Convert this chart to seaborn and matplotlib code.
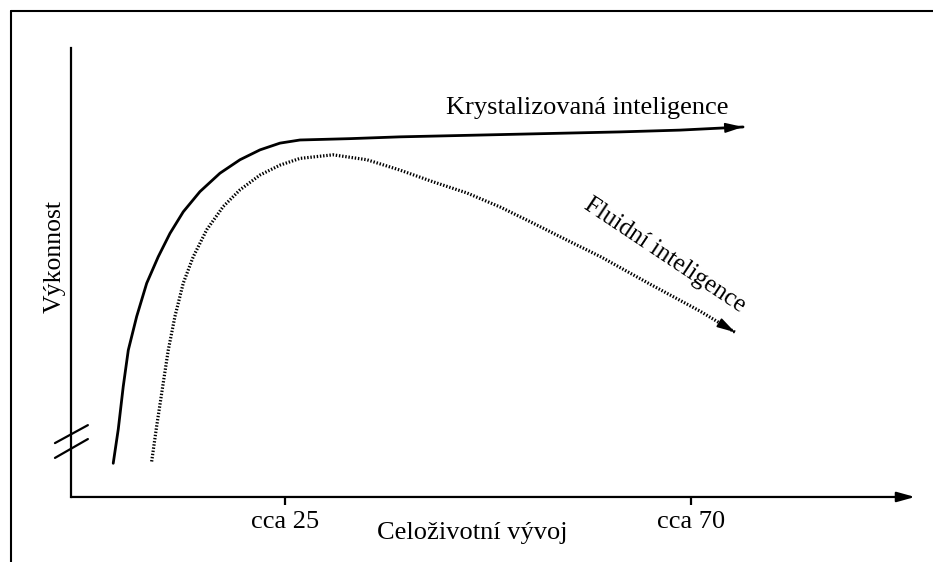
import numpy as np
import pandas as pd
import matplotlib
matplotlib.use("Agg")
import matplotlib.pyplot as plt
from matplotlib.lines import Line2D
import seaborn as sns

# ==========================================
# 数据
# ==========================================
TICK_AGES = [25, 70]
TICK_LABELS = ["cca 25", "cca 70"]

# 晶体智力（实线）
kryst_age = [5.97, 6.53, 7.08, 7.64, 8.57, 9.68, 10.96, 12.26, 13.73, 15.58, 17.80, 20.02, 22.24,
             24.45, 26.67, 32.2, 37.75, 48.83, 62.13, 68.8, 75.78]
kryst_perf = [7.5, 15.1, 24.6, 32.7, 40.2, 47.6, 53.5, 58.7, 63.5, 68.0, 72.1, 75.1, 77.3,
              78.8, 79.5, 79.8, 80.2, 80.7, 81.3, 81.7, 82.4]

# 流体智力（点线）
fluid_age = [10.23, 10.78, 11.34, 12.07, 12.81, 13.73, 14.84, 16.33, 18.17, 20.02, 22.24, 24.45,
             26.67, 30.33, 34.09, 37.75, 41.41, 45.18, 48.83, 52.49, 56.26, 60.0, 65.47, 71.0, 74.88]
fluid_perf = [7.9, 15.7, 23.1, 32.7, 40.2, 47.6, 53.5, 59.5, 64.7, 68.4, 71.7, 73.9,
              75.4, 76.2, 75.1, 72.8, 70.2, 67.7, 64.6, 61.0, 57.2, 53.5, 47.4, 41.4, 36.7]

df_k = pd.DataFrame({"age": kryst_age, "perf": kryst_perf})
df_f = pd.DataFrame({"age": fluid_age, "perf": fluid_perf})

sns.set_theme(style="white")
plt.rcParams["font.family"] = ["Liberation Serif", "DejaVu Serif"]
plt.rcParams["text.color"] = "black"
plt.rcParams["axes.labelcolor"] = "black"
plt.rcParams["xtick.color"] = "black"
plt.rcParams["ytick.color"] = "black"

fig = plt.figure(figsize=(9.33, 5.62), dpi=100)
ax = fig.add_axes([0.0761, 0.1157, 0.9046, 0.799])

sns.lineplot(data=df_k, x="age", y="perf", ax=ax, color="black", linewidth=2.0, estimator=None, sort=False)
sns.lineplot(data=df_f, x="age", y="perf", ax=ax, color="black", linewidth=2.3, linestyle=(0, (0.45, 0.55)),
             estimator=None, sort=False)


def arrow_head(df):
    # 箭头：在曲线末端画一个小三角
    x1, y1 = df["age"].iloc[-1], df["perf"].iloc[-1]
    x0, y0 = df["age"].iloc[-2], df["perf"].iloc[-2]
    xs = x1 - 0.02 * (x1 - x0)
    ys = y1 - 0.02 * (y1 - y0)
    ax.annotate("", xy=(x1, y1), xytext=(xs, ys),
                arrowprops=dict(arrowstyle="-|>,head_length=0.9,head_width=0.25", color="black",
                                lw=1.2, shrinkA=0, shrinkB=0))


arrow_head(df_k)
arrow_head(df_f)

ax.set_xlim(1.29, 94.84)
ax.set_ylim(0, 100)

# 坐标轴
for side in ["top", "right", "bottom"]:
    ax.spines[side].set_visible(False)
ax.spines["left"].set_color("black")
ax.spines["left"].set_linewidth(1.6)
ax.annotate("", xy=(1.0, 0.0), xytext=(0.0, 0.0), xycoords="axes fraction", textcoords="axes fraction",
            arrowprops=dict(arrowstyle="-|>,head_length=0.9,head_width=0.25", color="black", lw=1.6,
                            shrinkA=0, shrinkB=0))

ax.set_xticks(TICK_AGES)
ax.set_xticklabels(TICK_LABELS, fontsize=19)
ax.set_yticks([])
ax.tick_params(axis="x", direction="out", length=6, width=1.6, color="black", pad=4, bottom=True)

ax.set_xlabel("Celoživotní vývoj", fontsize=19)
ax.xaxis.set_label_coords(0.476, -0.055)
ax.set_ylabel("Výkonnost", fontsize=18.5)
ax.yaxis.set_label_coords(-0.006, 0.535)

# 纵轴断裂符号
for y0, y1 in [(0.120, 0.160), (0.087, 0.129)]:
    ax.plot([-0.019, 0.020], [y0, y1], transform=ax.transAxes, color="black", lw=1.6, clip_on=False)

# 曲线标注
ax.text(58.5, 86.6, "Krystalizovaná inteligence", fontsize=19, ha="center", va="center")
ax.text(67.1, 53.9, "Fluidní inteligence", fontsize=18, ha="center", va="center",
        rotation=-33.7, rotation_mode="anchor")

# 外框
fig.add_artist(Line2D([11 / 933, 11 / 933], [0, 1 - 11 / 562], color="black", lw=1.5))
fig.add_artist(Line2D([11 / 933, 1], [1 - 11 / 562, 1 - 11 / 562], color="black", lw=1.5))

fig.savefig("out.png", dpi=100)
